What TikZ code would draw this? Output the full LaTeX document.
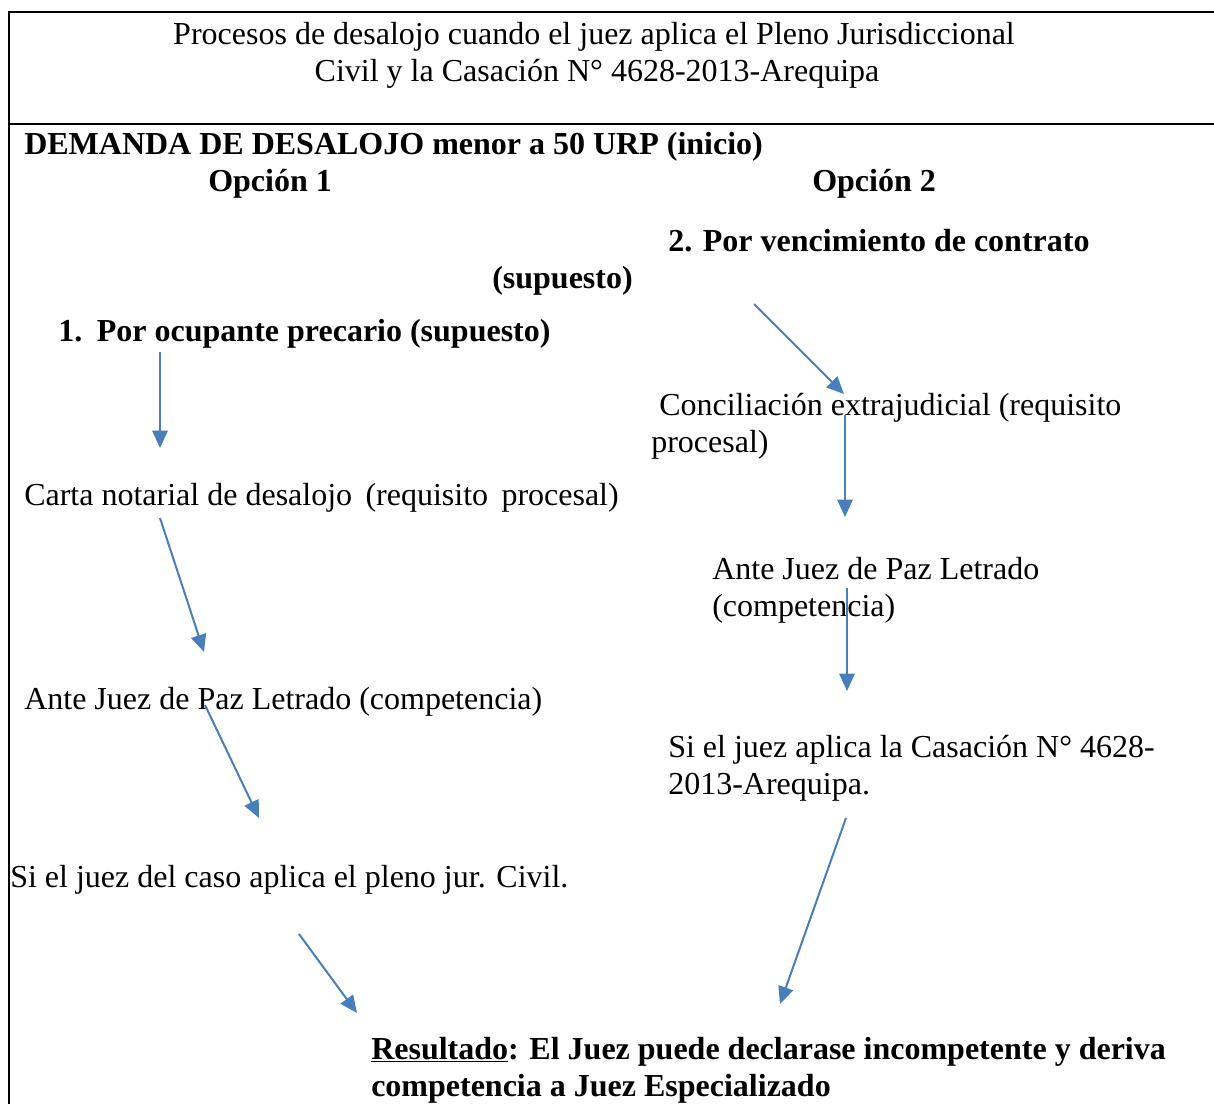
\documentclass[tikz,border=0pt]{standalone}
\usepackage{fontspec}
\setmainfont{Liberation Serif}
\usetikzlibrary{arrows.meta}
\definecolor{arrowblue}{HTML}{4A7EBB}
\begin{document}
\begin{tikzpicture}[x=0.75pt,y=-0.75pt,
  txt/.style={anchor=base west,inner sep=0pt,font=\fontsize{24}{27.75}\selectfont},
  btxt/.style={txt,font=\fontsize{24}{27.75}\selectfont\bfseries},
  flow/.style={draw=arrowblue,line width=1.5pt,-{Triangle[length=13pt,width=11.5pt]}},
  frame/.style={draw=black,line width=1.5pt}]
\useasboundingbox (0,0) rectangle (1214,1104);
% frame
\draw[frame] (1214,12) -- (9,12) -- (9,1104);
\draw[frame] (8,124) -- (1214,124);
% title
\node[txt,anchor=base] (t1) at (594,44) {Procesos de desalojo cuando el juez aplica el Pleno Jurisdiccional};
\node[txt,anchor=base] (t2) at (597,81) {Civil y la Casación N° 4628-2013-Arequipa};
% headings
\node[btxt] (dem) at (24,154) {DEMANDA DE DESALOJO menor a 50 URP (inicio)};
\node[btxt] (op1) at (208,191) {Opción 1};
\node[btxt] (op2) at (812,191) {Opción 2};
\node[btxt] (venc) at (668,251) {2. Por vencimiento de contrato};
\node[btxt] (venc2) at (492,288) {(supuesto)};
\node[btxt] (ocup) at (58,341) {1.\hspace{11pt}Por ocupante precario (supuesto)};
% left column
\node[txt] (carta) at (24,505) {Carta notarial de desalojo \hspace{4pt}(requisito \hspace{4pt}procesal)};
\node[txt] (juezL) at (24,709) {Ante Juez de Paz Letrado (competencia)};
\node[txt] (pleno) at (10,887) {Si el juez del caso aplica el pleno jur. Civil.};
% right column
\node[txt] (conc) at (659,415) {Conciliación extrajudicial (requisito};
\node[txt] (conc2) at (651,452) {procesal)};
\node[txt] (juezR) at (712,579) {Ante Juez de Paz Letrado};
\node[txt] (juezR2) at (712,616) {(competencia)};
\node[txt] (cas) at (668,757) {Si el juez aplica la Casación N° 4628-};
\node[txt] (cas2) at (668,794) {2013-Arequipa.};
% result
\node[btxt] (res) at (371,1059) {\underline{Resultado}: El Juez puede declarase incompetente y deriva};
\node[btxt] (res2) at (371,1096) {competencia a Juez Especializado};
% connector end points
\coordinate (a1s) at (160,352); \coordinate (a1e) at (160,448);
\coordinate (a2s) at (160,518); \coordinate (a2e) at (204,652);
\coordinate (a3s) at (205,705); \coordinate (a3e) at (259,818);
\coordinate (a4s) at (299,934); \coordinate (a4e) at (357,1013);
\coordinate (b1s) at (754,304); \coordinate (b1e) at (844,394);
\coordinate (b2s) at (845,415); \coordinate (b2e) at (845,517);
\coordinate (b3s) at (847,588); \coordinate (b3e) at (847,691);
\coordinate (b4s) at (846,818); \coordinate (b4e) at (780,1004);
\draw[flow] (a1s) -- (a1e);
\draw[flow] (a2s) -- (a2e);
\draw[flow] (a3s) -- (a3e);
\draw[flow] (a4s) -- (a4e);
\draw[flow] (b1s) -- (b1e);
\draw[flow] (b2s) -- (b2e);
\draw[flow] (b3s) -- (b3e);
\draw[flow] (b4s) -- (b4e);
\end{tikzpicture}
\end{document}
